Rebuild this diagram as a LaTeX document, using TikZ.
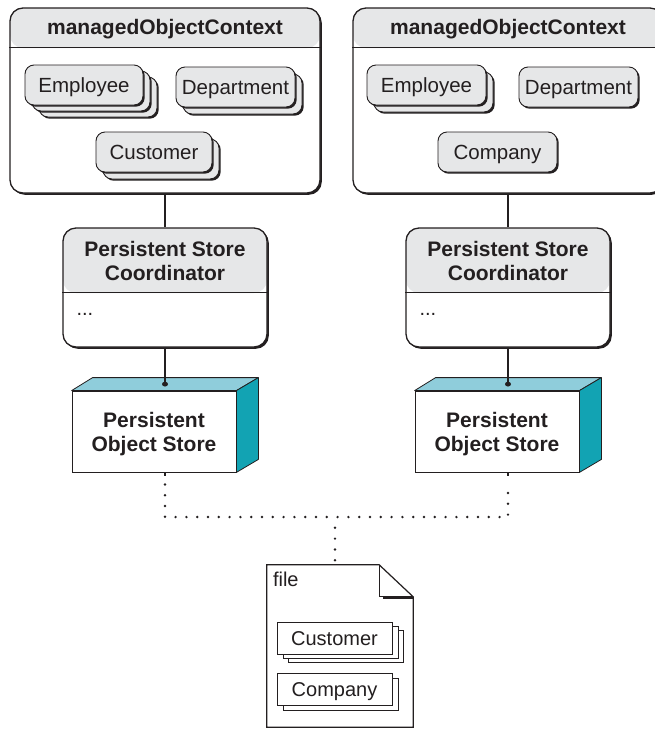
\documentclass[tikz,border=0pt]{standalone}
\usepackage{fontspec}
\setmainfont{Liberation Sans}
\usetikzlibrary{shadows,calc}
\definecolor{ink}{HTML}{231F20}
\definecolor{panel}{HTML}{E6E7E8}
\definecolor{tealtop}{HTML}{8FCDDB}
\definecolor{tealside}{HTML}{12A3B3}

\begin{document}
\begin{tikzpicture}[x=1pt,y=-1pt,
  % rounded panel with a grey title band of height #1
  panelbox/.style={draw=ink, line width=1.3pt, fill=white, rounded corners=13pt, inner sep=0pt,
    drop shadow={shadow xshift=1.8pt, shadow yshift=-1.8pt, fill=ink, opacity=1},
    path picture={\fill[panel] (path picture bounding box.north west)
      rectangle ([yshift=-#1]path picture bounding box.north east);}},
  sepline/.style={draw=ink, line width=1pt},
  titletext/.style={font=\fontsize{21}{24}\selectfont\bfseries, text=ink, inner sep=0pt,
    text height=15pt, text depth=0pt},
  twoline/.style={font=\fontsize{21}{24}\selectfont\bfseries, text=ink, inner sep=0pt,
    align=center, text depth=0pt},
  entity/.style={draw=ink, line width=0.9pt, fill=panel, rounded corners=9pt,
    minimum height=40pt, inner sep=0pt, text=ink,
    font=\fontsize{20.5}{24}\selectfont, text height=14pt, text depth=0pt,
    drop shadow={shadow xshift=1.7pt, shadow yshift=-1.7pt, fill=ink, opacity=1}},
  storeface/.style={draw=ink, line width=0.8pt, fill=white, inner sep=0pt,
    minimum width=164pt, minimum height=81pt},
  cubeedge/.style={draw=ink, line width=0.8pt, line join=round},
  wire/.style={draw=ink, line width=1.3pt},
  dotted wire/.style={draw=ink, line width=2.7pt, line cap=round, dash pattern=on 0pt off 10.8pt},
  filerec/.style={draw=ink, line width=0.8pt, fill=white, inner sep=0pt,
    minimum width=115pt, minimum height=32pt, text=ink,
    font=\fontsize{20}{24}\selectfont, text height=14pt, text depth=0pt},
  plain/.style={text=ink, inner sep=0pt, font=\fontsize{20}{24}\selectfont}
]
\useasboundingbox (0,0) rectangle (655,729);
\clip (0,0) rectangle (655,729);

% ---------- managed object contexts ----------
\node[panelbox=40pt, minimum width=310pt, minimum height=185pt] (ctxL) at (165,100.5) {};
\node[panelbox=40pt, minimum width=310pt, minimum height=185pt] (ctxR) at (508,100.5) {};
\draw[sepline] ([yshift=-40pt]ctxL.north west) -- ([yshift=-40pt]ctxL.north east);
\draw[sepline] ([yshift=-40pt]ctxR.north west) -- ([yshift=-40pt]ctxR.north east);
\node[titletext] (ctxLt) at ([yshift=-20pt]ctxL.north) {managedObjectContext};
\node[titletext] (ctxRt) at ([yshift=-20pt]ctxR.north) {managedObjectContext};

% left context objects
\node[entity, minimum width=118pt] (empL3) at (98,97) {};
\node[entity, minimum width=118pt] (empL2) at (91,91) {};
\node[entity, minimum width=118pt] (empL) at (84,85) {Employee};
\node[entity, minimum width=119pt] (depL2) at (242.5,94) {};
\node[entity, minimum width=119pt] (depL) at (235.5,87) {Department};
\node[entity, minimum width=116pt] (cusL2) at (161,159) {};
\node[entity, minimum width=116pt] (cusL) at (154,152) {Customer};

% right context objects
\node[entity, minimum width=119pt] (empR2) at (433.5,92) {};
\node[entity, minimum width=119pt] (empR) at (426.5,85) {Employee};
\node[entity, minimum width=119pt] (depR) at (578.5,87) {Department};
\node[entity, minimum width=119pt] (comR) at (497.5,152) {Company};

% ---------- persistent store coordinators ----------
\node[panelbox=65pt, minimum width=204pt, minimum height=119pt] (coordL) at (165,287.5) {};
\node[panelbox=65pt, minimum width=204pt, minimum height=119pt] (coordR) at (508,287.5) {};
\draw[sepline] ([yshift=-65pt]coordL.north west) -- ([yshift=-65pt]coordL.north east);
\draw[sepline] ([yshift=-65pt]coordR.north west) -- ([yshift=-65pt]coordR.north east);
\node[twoline, text height=41pt] (coordLt) at ([yshift=-32.5pt]coordL.north) {Persistent Store\\Coordinator};
\node[twoline, text height=41pt] (coordRt) at ([yshift=-32.5pt]coordR.north) {Persistent Store\\Coordinator};
\node[plain, anchor=west] (coordLd) at ($(coordL.north west)+(14,87)$) {...};
\node[plain, anchor=west] (coordRd) at ($(coordR.north west)+(14,87)$) {...};

% ---------- persistent object stores (boxes) ----------
\foreach \s/\cx in {L/154, R/497}{
  \node[storeface] (store\s) at (\cx,431.5) {};
  \filldraw[cubeedge, fill=tealtop] (store\s.north west) -- ++(21,-13)
     -- ($(store\s.north east)+(22,-13)$) -- (store\s.north east) -- cycle;
  \filldraw[cubeedge, fill=tealside] (store\s.north east) -- ++(22,-13)
     -- ($(store\s.south east)+(22,-13)$) -- (store\s.south east) -- cycle;
  \node[twoline, text height=39pt] (store\s t) at (store\s.center) {Persistent\\Object Store};
}
\coordinate (dotL) at ($(storeL.north)+(11,-6.5)$);
\coordinate (dotR) at ($(storeR.north)+(11,-6.5)$);

% ---------- solid connectors ----------
\draw[wire] (ctxL.south) -- (coordL.north);
\draw[wire] (ctxR.south) -- (coordR.north);
\draw[wire] (coordL.south) -- (dotL);
\draw[wire] (coordR.south) -- (dotR);
\fill[ink] (dotL) ellipse (3pt and 2.4pt);
\fill[ink] (dotR) ellipse (3pt and 2.4pt);

% ---------- file ----------
\node[minimum width=146pt, minimum height=162pt, inner sep=0pt] (file) at (340,646) {};
\draw[ink, line width=1.2pt, line join=miter, fill=white]
  (file.north west) -- ($(file.north east)+(-34,0)$) -- ($(file.north east)+(0,32)$)
  -- (file.south east) -- (file.south west) -- cycle;
\draw[ink, line width=1pt] ($(file.north east)+(-34,0)$) -- ($(file.north east)+(-34,32)$)
  -- ($(file.north east)+(0,32)$);
\draw[ink, line width=2.4pt] ($(file.north east)+(-30,33)$) -- ($(file.north east)+(0,33)$);
\node[plain, anchor=base west] (filelabel) at ($(file.north west)+(6,22)$) {file};

\node[filerec] (fcus3) at (345.5,646) {};
\node[filerec] (fcus2) at (340.5,642) {};
\node[filerec] (fcus) at (334.5,638) {Customer};
\node[filerec] (fcom2) at (340.5,694) {};
\node[filerec] (fcom) at (334.5,689) {Company};

% ---------- dotted links from the stores to the file ----------
\coordinate (baseL) at (dotL |- storeL.south);
\coordinate (baseR) at (dotR |- storeR.south);
\coordinate (joinL) at (dotL |- 0,517);
\coordinate (joinR) at (dotR |- 0,517);
\coordinate (joinM) at (335,517);
\coordinate (fileTop) at (file.north west -| joinM);
\draw[wire] (baseL) -- ++(0,4);
\draw[wire] (baseR) -- ++(0,4);
\draw[dotted wire] ($(baseL)+(0,12)$) -- (joinL) -- (joinR) -- ($(baseR)+(0,12)$);
\draw[dotted wire] (joinM) ++(0,10.8) -- ($(fileTop)+(0,-4)$);
\end{tikzpicture}
\end{document}
